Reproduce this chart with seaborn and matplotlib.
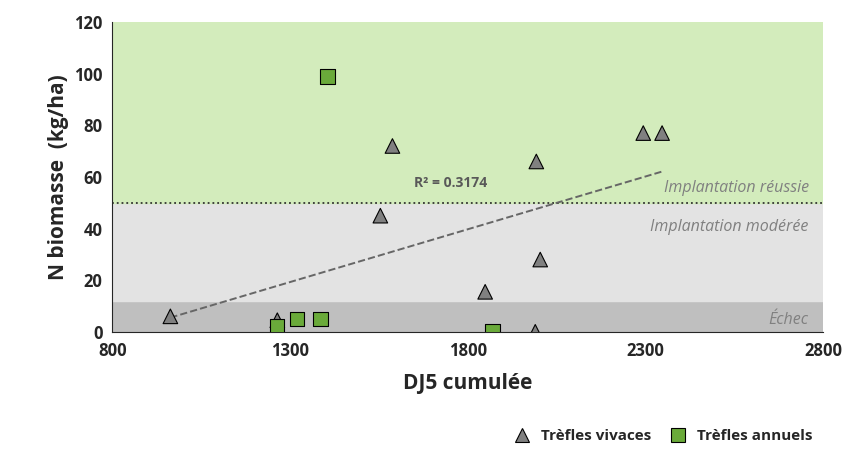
import numpy as np
import pandas as pd
import seaborn as sns
import matplotlib.pyplot as plt

# Trèfles vivaces
viv_x = [963, 1264, 1554, 1588, 1849, 1993, 2004, 1990, 2294, 2347]
viv_y = [6, 4.5, 45, 72, 15.5, 66, 28, 0, 77, 77]
# Trèfles annuels
ann_x = [1405, 1263, 1320, 1385, 1870]
ann_y = [99, 2, 5, 5, 0.4]

df = pd.concat([
    pd.DataFrame({'dj5': viv_x, 'n': viv_y, 'type': 'Trèfles vivaces'}),
    pd.DataFrame({'dj5': ann_x, 'n': ann_y, 'type': 'Trèfles annuels'}),
])

sns.set_style("white")
plt.rcParams['font.family'] = ['Open Sans', 'DejaVu Sans']

fig, ax = plt.subplots(figsize=(8.52, 4.70), dpi=100)
fig.subplots_adjust(left=0.132, right=0.966, top=0.953, bottom=0.294)

ax.axhspan(0, 12, color='#bfbfbf', zorder=0)
ax.axhspan(12, 50, color='#e3e3e3', zorder=0)
ax.axhspan(50, 120, color='#d3ecbc', zorder=0)
ax.axhline(50, color='#333333', ls=':', lw=1.3, zorder=1)

sns.scatterplot(data=df, x='dj5', y='n', hue='type', style='type',
                markers={'Trèfles vivaces': '^', 'Trèfles annuels': 's'},
                palette={'Trèfles vivaces': '#808080', 'Trèfles annuels': '#6aaa3a'},
                s=110, edgecolor='black', linewidth=0.8, ax=ax, zorder=3)

a, b = np.polyfit(viv_x, viv_y, 1)
xs = np.array([min(viv_x), max(viv_x)])
ax.plot(xs, a * xs + b, ls='--', color='#666666', lw=1.4, zorder=2)
ax.text(1650, 56, 'R² = 0.3174', color='#595959', fontsize=10, fontweight='bold')

ax.text(2760, 54, 'Implantation réussie', color='#808080', fontsize=11.5, style='italic', ha='right')
ax.text(2760, 39, 'Implantation modérée', color='#808080', fontsize=11.5, style='italic', ha='right')
ax.text(2760, 3, 'Échec', color='#808080', fontsize=11.5, style='italic', ha='right')

ax.set_xlim(800, 2800)
ax.set_ylim(0, 120)
ax.set_xticks(range(800, 2801, 500))
ax.set_yticks(range(0, 121, 20))
ax.tick_params(labelsize=12)
for t in ax.get_xticklabels() + ax.get_yticklabels():
    t.set_fontweight('bold')
ax.set_xlabel('DJ5 cumulée', fontsize=15, fontweight='bold', labelpad=10)
ax.set_ylabel('N biomasse  (kg/ha)', fontsize=15, fontweight='bold')
for s in ['top', 'right']:
    ax.spines[s].set_visible(False)

h, l = ax.get_legend_handles_labels()
ax.legend(h, l, loc='upper center', bbox_to_anchor=(0.77, -0.27), ncol=2, frameon=False,
          prop={'weight': 'bold', 'size': 11}, handletextpad=0.2, columnspacing=0.8)

fig.savefig('out.png')
